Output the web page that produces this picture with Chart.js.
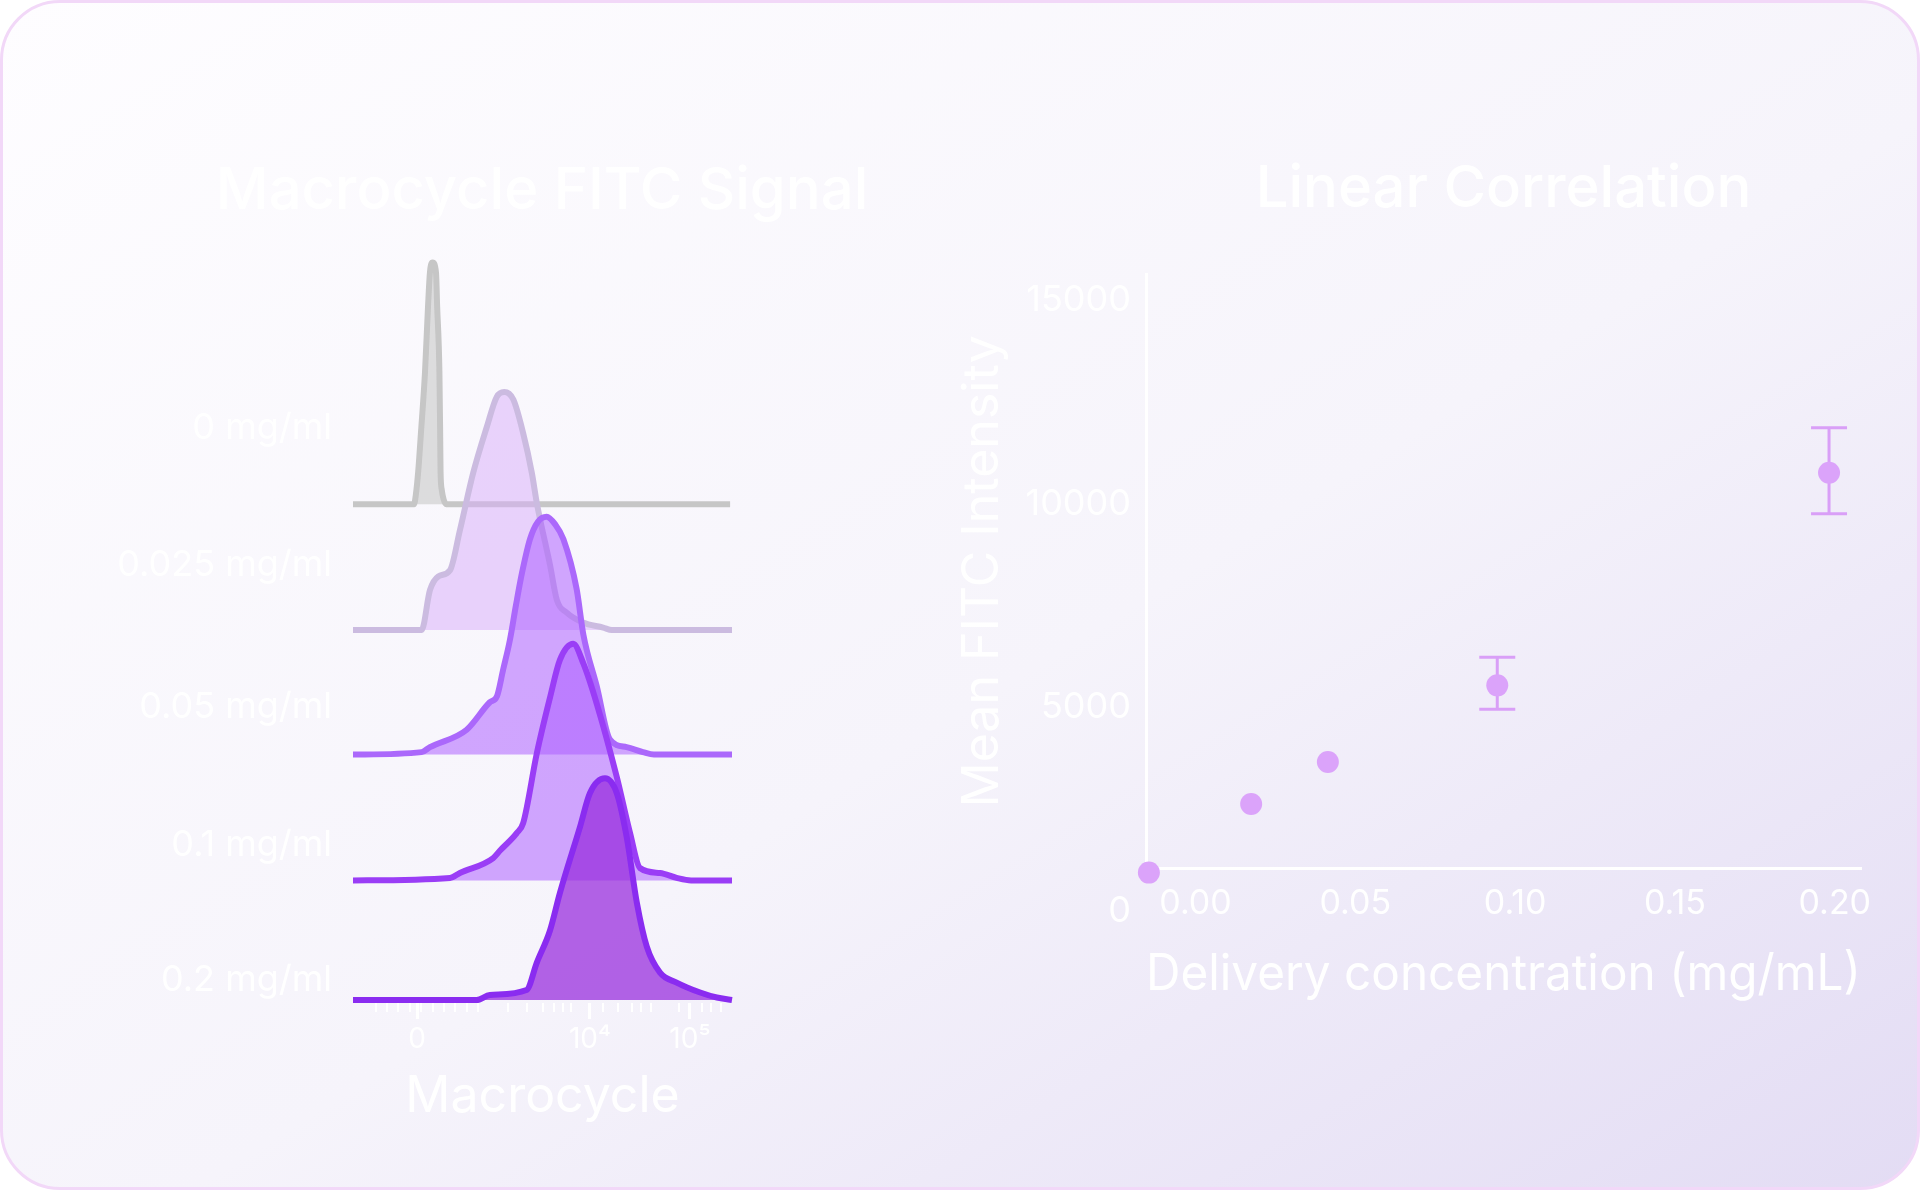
<!DOCTYPE html>
<html>
<head>
<meta charset="utf-8">
<title>Macrocycle FITC Signal / Linear Correlation</title>
<script src="https://cdn.jsdelivr.net/npm/chart.js@4.4.1/dist/chart.umd.min.js"></script>
<style>
  html, body { margin: 0; padding: 0; background: #ffffff; }
  #card {
    position: absolute; left: 0; top: 0;
    width: 1920px; height: 1190px;
    box-sizing: border-box;
    border: 3px solid #f2d8f8;
    border-radius: 60px;
    background: linear-gradient(to bottom right, #fefdff 0%, #f6f4fb 55%, #e3dcf4 100%);
  }
  canvas { position: absolute; top: 0; }
  #ridge { left: 0; }
  #corr { left: 900px; }
</style>
</head>
<body>
<div id="card"></div>
<canvas id="ridge" width="1084" height="1190"></canvas>
<canvas id="corr" width="1020" height="1190"></canvas>

<script>
// ---- left: macrocycle histograms (x in axis display units 0-100, heights in row units) ----
const rowLabels = ['0 mg/ml', '0.025 mg/ml', '0.05 mg/ml', '0.1 mg/ml', '0.2 mg/ml'];
const rowBase = [3.98, 2.97, 1.97, 0.96, 0];
const rowLabelPos = [4.59, 3.49, 2.35, 1.24, 0.16];

const x0mg = [0, 16.1, 16.6, 17.2, 17.9, 19.0, 19.8, 20.3, 21.0, 21.9, 22.2, 22.8, 23.0, 23.1, 23.4, 23.9, 24.6, 99.5];
const h0mg = [0, 0, 0.08, 0.26, 0.56, 1.06, 1.59, 1.86, 1.94, 1.86, 1.59, 1.06, 0.56, 0.26, 0.12, 0.04, 0, 0];

const x0025mg = [0, 18.1, 20.3, 22.5, 25.6, 28.2, 31.7, 35.3, 37.9, 39.9, 42.3, 44.9, 47.2, 48.5, 52.0, 53.8, 56.4, 60.7, 66.0, 68.3, 100];
const h0025mg = [0, 0, 0.32, 0.43, 0.48, 0.80, 1.26, 1.63, 1.87, 1.91, 1.85, 1.58, 1.26, 1.02, 0.52, 0.24, 0.14, 0.06, 0.02, 0, 0];

const x005mg = [0, 18.1, 20.3, 30.0, 36.1, 38.0, 39.6, 41.4, 43.0, 44.6, 46.7, 48.8, 51.1, 53.3, 55.5, 59.0, 60.8, 64.3, 67.8, 72.2, 76.5, 79.4, 100];
const h005mg = [0, 0.02, 0.06, 0.20, 0.42, 0.47, 0.68, 0.92, 1.20, 1.46, 1.73, 1.87, 1.91, 1.85, 1.73, 1.33, 0.96, 0.55, 0.12, 0.06, 0.02, 0, 0];

const x01mg = [0, 25.6, 28.2, 37.0, 38.8, 43.2, 44.9, 48.5, 52.0, 54.6, 58.1, 60.8, 64.3, 69.6, 73.1, 75.7, 81.0, 85.4, 89.2, 100];
const h01mg = [0, 0.02, 0.06, 0.18, 0.24, 0.38, 0.46, 1.02, 1.47, 1.77, 1.90, 1.74, 1.42, 0.83, 0.38, 0.10, 0.06, 0.02, 0, 0];

const x02mg = [0, 32.6, 36.1, 45.8, 48.5, 52.0, 54.6, 59.9, 62.5, 66.5, 69.6, 72.2, 74.9, 77.5, 81.0, 85.4, 91.6, 96.0, 100];
const h02mg = [0, 0, 0.04, 0.08, 0.30, 0.56, 0.86, 1.39, 1.66, 1.78, 1.66, 1.31, 0.78, 0.43, 0.22, 0.14, 0.06, 0.02, 0];

const macroTickPos = [16.9, 62.5, 88.9];
const macroTickLabels = ['0', '10⁴', '10⁵'];
const macroMinorPos = [6, 9, 12, 15, 18, 21, 24, 27, 30, 33, 41, 46, 50, 53, 55.5, 57.5, 66, 70, 73.5, 76, 78.5, 86, 89, 92, 94.5, 97];

// ---- right: linear correlation ----
const concentration = [-0.0146, 0.0174, 0.0414, 0.0944, 0.1982];
const meanIntensity = [944, 2631, 3664, 5545, 10770];
const errHigh = [null, null, null, 6238, 11876];
const errLow = [null, null, null, 4960, 9762];
const concTicks = [0, 0.05, 0.10, 0.15, 0.20];
const intensityTicks = [0, 5000, 10000, 15000];

Chart.defaults.font.family = 'Inter';
Chart.defaults.color = '#ffffff';

const rowX = [x0mg, x0025mg, x005mg, x01mg, x02mg];
const rowH = [h0mg, h0025mg, h005mg, h01mg, h02mg];
const rowStroke = ['#c6c6c6', '#cbbbe0', '#ab68fb', '#9a3df6', '#8a2cf0'];
const rowFill = ['rgba(205,205,205,0.65)', 'rgba(216,172,250,0.5)', 'rgba(170,90,255,0.52)',
                 'rgba(170,90,255,0.52)', 'rgba(150,40,220,0.72)'];

const ridgeSets = rowLabels.map((label, i) => ({
    label: label,
    data: rowX[i].map((x, j) => ({ x: x, y: rowBase[i] + rowH[i][j] })),
    borderColor: rowStroke[i],
    backgroundColor: rowFill[i],
    borderWidth: 6,
    borderJoinStyle: 'round',
    fill: { value: rowBase[i] },
    pointRadius: 0,
    cubicInterpolationMode: 'monotone',
    order: rowLabels.length - 1 - i,
    clip: false
}));

new Chart(document.getElementById('ridge'), {
    type: 'line',
    data: { datasets: ridgeSets },
    options: {
        responsive: false,
        animation: false,
        events: [],
        layout: { padding: 0 },
        plugins: {
            legend: { display: false },
            tooltip: { enabled: false },
            title: {
                display: true,
                text: 'Macrocycle FITC Signal',
                color: '#ffffff',
                font: { size: 58, weight: '500' },
                padding: { top: 157, bottom: 23 }
            }
        },
        scales: {
            xMinor: {
                type: 'linear', position: 'bottom', min: 0, max: 100, weight: 0,
                afterBuildTicks: s => { s.ticks = macroMinorPos.map(v => ({ value: v })); },
                afterFit: s => { s.height = 0; },
                ticks: { display: false },
                grid: { drawOnChartArea: false, tickLength: 9, color: '#ffffff', lineWidth: 2 },
                border: { display: false }
            },
            x: {
                type: 'linear', position: 'bottom', min: 0, max: 100, weight: 1,
                afterBuildTicks: s => { s.ticks = macroTickPos.map(v => ({ value: v })); },
                afterFit: s => { s.height = 187; },
                ticks: {
                    callback: v => macroTickLabels[macroTickPos.indexOf(v)],
                    font: { size: 28 }, padding: 4, autoSkip: false, maxRotation: 0
                },
                grid: { drawOnChartArea: false, tickLength: 16, color: '#ffffff', lineWidth: 3 },
                border: { display: false },
                title: {
                    display: true, text: 'Macrocycle', color: '#ffffff',
                    font: { size: 50 }, padding: { top: 0, bottom: 63 }
                }
            },
            y: {
                type: 'linear', min: -0.024, max: 6.024,
                afterBuildTicks: s => {
                    s.ticks = [...rowLabelPos].sort((a, b) => a - b).map(v => ({ value: v }));
                },
                afterFit: s => { s.width = 353; },
                ticks: {
                    callback: v => rowLabels[rowLabelPos.indexOf(v)],
                    font: { size: 36 }, padding: 13, autoSkip: false
                },
                grid: { display: false },
                border: { display: false }
            },
            // empty right-hand axis, keeps room so the title centres over the plot
            yPad: {
                type: 'linear', position: 'right', min: 0, max: 1,
                afterFit: s => { s.width = 352; },
                ticks: { display: false },
                grid: { display: false },
                border: { display: false }
            }
        }
    }
});

const errorBars = {
    id: 'errorBars',
    beforeDatasetsDraw(chart) {
        const { ctx, scales: { x, y } } = chart;
        ctx.save();
        ctx.strokeStyle = '#d99ff7';
        ctx.lineWidth = 3;
        concentration.forEach((c, i) => {
            if (errHigh[i] == null) return;
            const px = x.getPixelForValue(c);
            const top = y.getPixelForValue(errHigh[i]);
            const bot = y.getPixelForValue(errLow[i]);
            ctx.beginPath();
            ctx.moveTo(px, top); ctx.lineTo(px, bot);
            ctx.moveTo(px - 18, top); ctx.lineTo(px + 18, top);
            ctx.moveTo(px - 18, bot); ctx.lineTo(px + 18, bot);
            ctx.stroke();
        });
        ctx.restore();
    }
};

new Chart(document.getElementById('corr'), {
    type: 'scatter',
    data: {
        datasets: [{
            label: 'Mean FITC Intensity',
            data: concentration.map((c, i) => ({ x: c, y: meanIntensity[i] })),
            backgroundColor: '#dba3fa',
            borderWidth: 0,
            pointRadius: 11,
            clip: false
        }]
    },
    options: {
        responsive: false,
        animation: false,
        events: [],
        layout: { padding: { left: 0, right: 59, top: 0, bottom: 0 } },
        plugins: {
            legend: { display: false },
            tooltip: { enabled: false },
            title: {
                display: true,
                text: 'Linear Correlation',
                fullSize: false,
                color: '#ffffff',
                font: { size: 58, weight: '500' },
                padding: { top: 155, bottom: 50 }
            }
        },
        scales: {
            x: {
                type: 'linear', min: -0.0155, max: 0.2082,
                afterBuildTicks: s => { s.ticks = concTicks.map(v => ({ value: v })); },
                afterFit: s => { s.height = 322; },
                ticks: { callback: v => v.toFixed(2), font: { size: 34 }, padding: 7, autoSkip: false, maxRotation: 0 },
                grid: { display: false },
                border: { display: true, color: '#ffffff', width: 3 },
                title: {
                    display: true, text: 'Delivery concentration (mg/mL)', color: '#ffffff',
                    font: { size: 50 }, padding: { top: 0, bottom: 185 }
                }
            },
            y: {
                type: 'linear', min: 1057, max: 15638,
                afterBuildTicks: s => { s.ticks = intensityTicks.map(v => ({ value: v })); },
                afterFit: s => { s.width = 246; },
                ticks: { callback: v => String(v), font: { size: 36 }, padding: 7, autoSkip: false },
                grid: { display: false },
                border: { display: true, color: '#ffffff', width: 3 },
                title: {
                    display: true, text: 'Mean FITC Intensity', color: '#ffffff',
                    font: { size: 50 }, padding: { top: 53, bottom: 0 }
                }
            }
        }
    },
    plugins: [errorBars]
});
</script>
</body>
</html>
